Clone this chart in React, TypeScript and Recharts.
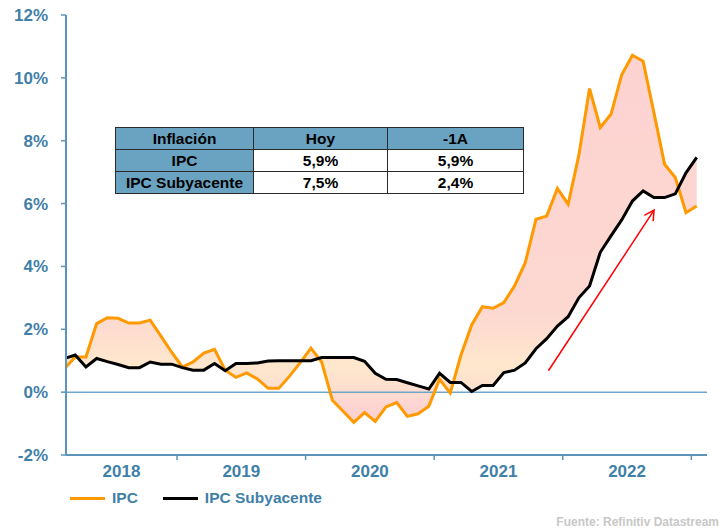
import React from 'react';
import { ComposedChart, Line, Area, XAxis, YAxis, ReferenceLine } from 'recharts';

// monthly series, Feb 2018 .. Jan 2023 (t = months since Jan 2018, mid-month)
const firstYear = 2018;
const firstMonth = 2;
const years = [2018, 2019, 2020, 2021, 2022];

const ipc = [
  0.75, 1.12, 1.12, 2.18, 2.37, 2.35, 2.2, 2.2, 2.29, 1.78, 1.27,
  0.8, 0.96, 1.24, 1.36, 0.7, 0.47, 0.61, 0.42, 0.12, 0.12, 0.51, 0.94,
  1.4, 0.96, -0.26, -0.61, -0.96, -0.65, -0.93, -0.47, -0.33, -0.77, -0.69, -0.45,
  0.41, -0.03, 1.18, 2.14, 2.72, 2.67, 2.85, 3.38, 4.12, 5.5, 5.6, 6.48,
  5.98, 7.54, 9.66, 8.42, 8.84, 10.1, 10.72, 10.53, 8.9, 7.25, 6.83, 5.71,
  5.92,
];

const core = [
  1.07, 1.18, 0.8, 1.07, 0.97, 0.88, 0.78, 0.78, 0.96, 0.89, 0.89,
  0.78, 0.7, 0.7, 0.91, 0.68, 0.91, 0.91, 0.93, 0.99, 1.0, 1.0, 1.0,
  1.0, 1.1, 1.1, 1.1, 1.1, 0.98, 0.6, 0.41, 0.4, 0.3, 0.2, 0.1,
  0.6, 0.31, 0.31, 0.02, 0.21, 0.21, 0.62, 0.7, 0.93, 1.38, 1.7, 2.1,
  2.4, 3.0, 3.38, 4.45, 4.97, 5.48, 6.08, 6.4, 6.19, 6.19, 6.31, 6.98,
  7.47,
];

const yTicks = [-2, 0, 2, 4, 6, 8, 10, 12];

const tableHead = ['Inflación', 'Hoy', '-1A'];
const tableRows = [
  ['IPC', '5,9%', '5,9%'],
  ['IPC Subyacente', '7,5%', '2,4%'],
];

const seriesNames = ['IPC', 'IPC Subyacente'];
const seriesColors = ['#ff9900', '#000000'];

// arrow annotation (data coords)
const arrowFrom = { x: 46.66, y: 0.68 };
const arrowTo = { x: 56.52, y: 5.79 };

const xMin = 1.64;
const xMax = 61.46;

const t0 = (firstYear - 2018) * 12 + (firstMonth - 1) + 0.5;
const data = ipc.map((v, i) => ({
  t: t0 + i,
  ipc: v,
  core: core[i],
  gap: [core[i], v],
}));

const yearBounds = years.slice(1).map((y) => (y - 2018) * 12).concat([(years[years.length - 1] + 1 - 2018) * 12]);
const yearCenters = years.map((y) => {
  const a = Math.max((y - 2018) * 12, xMin);
  const b = Math.min((y - 2018 + 1) * 12, xMax);
  return (a + b) / 2;
});
const xTicks = [...yearBounds, ...yearCenters].sort((a, b) => a - b);

const blue = '#3f80a9';
const axisBlue = '#5b95bb';
const font = '"Liberation Sans", Arial, sans-serif';

// boundary ticks get a short mark, centre ticks get the year label
const YearTick = (props: any) => {
  const { x, y, payload } = props;
  const v = payload.value;
  if (yearBounds.includes(v)) {
    return <line x1={x} y1={y} x2={x} y2={y + 5} stroke={axisBlue} strokeWidth={1.5} />;
  }
  return (
    <text x={x} y={y + 10} dy="0.71em" textAnchor="middle" fill={blue} fontSize={17} fontWeight="bold" fontFamily={font}>
      {2018 + Math.floor(v / 12)}
    </text>
  );
};

const Arrow = (props: any) => {
  const { x1, y1, x2, y2 } = props;
  const ang = Math.atan2(y2 - y1, x2 - x1);
  const len = 11;
  const spread = 0.5;
  const a1 = ang + Math.PI - spread;
  const a2 = ang + Math.PI + spread;
  const pts = `${x2 + len * Math.cos(a1)},${y2 + len * Math.sin(a1)} ${x2},${y2} ${x2 + len * Math.cos(a2)},${y2 + len * Math.sin(a2)}`;
  return (
    <g>
      <line x1={x1} y1={y1} x2={x2} y2={y2} stroke="#ff0000" strokeWidth={1.5} />
      <polyline points={pts} fill="none" stroke="#ff0000" strokeWidth={1.5} />
    </g>
  );
};

const cellBase: React.CSSProperties = {
  border: '1.5px solid #2a2a2a',
  padding: 0,
  height: 21,
  textAlign: 'center',
  verticalAlign: 'middle',
};

export default function App() {
  return (
    <div style={{ position: 'absolute', left: 0, top: 0, width: 726, height: 531, background: '#fff', fontFamily: font }}>
      <ComposedChart width={726} height={531} data={data} margin={{ top: 15, right: 19, bottom: 46, left: 0 }}>
        <defs>
          <linearGradient id="gapFill" x1="0" y1="0" x2="0" y2="1">
            <stop offset="0" stopColor="#fdd3d1" />
            <stop offset="0.5" stopColor="#fdd6d1" />
            <stop offset="0.7" stopColor="#fdd8d1" />
            <stop offset="0.8" stopColor="#fee2ce" />
            <stop offset="0.845" stopColor="#fee8cd" />
            <stop offset="0.9" stopColor="#fee0cf" />
            <stop offset="0.95" stopColor="#fdd5d2" />
            <stop offset="1" stopColor="#fdd0d0" />
          </linearGradient>
        </defs>
        <XAxis
          dataKey="t"
          type="number"
          domain={[xMin, xMax]}
          allowDataOverflow
          ticks={xTicks}
          interval={0}
          height={30}
          tickSize={0}
          tickMargin={0}
          tickLine={false}
          axisLine={{ stroke: axisBlue, strokeWidth: 2 }}
          tick={<YearTick />}
        />
        <YAxis
          domain={[-2, 12]}
          ticks={yTicks}
          interval={0}
          width={66}
          tickSize={5}
          tickMargin={13}
          tickFormatter={(v: number) => `${v}%`}
          axisLine={{ stroke: axisBlue, strokeWidth: 2 }}
          tickLine={{ stroke: axisBlue, strokeWidth: 1.5 }}
          tick={{ fill: blue, fontSize: 17, fontWeight: 'bold', fontFamily: font }}
        />
        <ReferenceLine y={0} stroke="#6fa5c8" strokeWidth={1.5} />
        <Area
          dataKey="gap"
          stroke="none"
          fill="url(#gapFill)"
          fillOpacity={1}
          isAnimationActive={false}
        />
        <Line dataKey="ipc" name={seriesNames[0]} stroke={seriesColors[0]} strokeWidth={3} dot={false} isAnimationActive={false} />
        <Line dataKey="core" name={seriesNames[1]} stroke={seriesColors[1]} strokeWidth={3} dot={false} isAnimationActive={false} />
        <ReferenceLine segment={[arrowFrom, arrowTo]} shape={Arrow} ifOverflow="visible" />
      </ComposedChart>

      <table
        style={{
          position: 'absolute',
          left: 115,
          top: 127,
          width: 408,
          borderCollapse: 'collapse',
          fontFamily: font,
          fontWeight: 'bold',
          fontSize: 15.5,
          color: '#000',
          tableLayout: 'fixed',
        }}
      >
        <colgroup>
          <col style={{ width: 138 }} />
          <col style={{ width: 134 }} />
          <col style={{ width: 136 }} />
        </colgroup>
        <tbody>
          <tr>
            {tableHead.map((h) => (
              <td key={h} style={{ ...cellBase, background: '#6aa3c2' }}>{h}</td>
            ))}
          </tr>
          {tableRows.map((r) => (
            <tr key={r[0]}>
              {r.map((c, j) => (
                <td key={j} style={{ ...cellBase, background: j === 0 ? '#6aa3c2' : '#fff' }}>{c}</td>
              ))}
            </tr>
          ))}
        </tbody>
      </table>

      <div style={{ position: 'absolute', left: 70, top: 488, display: 'flex', alignItems: 'center', height: 20 }}>
        {seriesNames.map((n, i) => (
          <div key={n} style={{ display: 'flex', alignItems: 'center', marginRight: 25 }}>
            <div style={{ width: 35, height: 3, background: seriesColors[i], marginRight: 7 }} />
            <span style={{ color: blue, fontWeight: 'bold', fontSize: 15.5, fontFamily: font }}>{n}</span>
          </div>
        ))}
      </div>

      <div style={{ position: 'absolute', right: 7, top: 515, color: '#c8c8c8', fontWeight: 'bold', fontSize: 12, fontFamily: font }}>
        Fuente: Refinitiv Datastream
      </div>
    </div>
  );
}
